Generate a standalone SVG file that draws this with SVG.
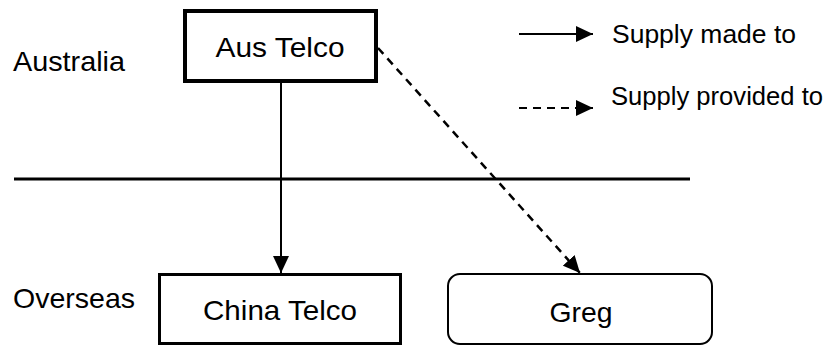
<svg xmlns="http://www.w3.org/2000/svg" width="834" height="347" viewBox="0 0 834 347">
<style>
text{font-family:"Liberation Sans",Arial,sans-serif;font-size:28px;fill:#000}
.c{text-anchor:middle}
.lg{font-size:26px}
.ln{stroke:#000;fill:none}
.dash{stroke-dasharray:8 6}
</style>
<defs>
<marker id="ah" markerUnits="userSpaceOnUse" markerWidth="18" markerHeight="16" refX="17" refY="8" orient="auto">
<path d="M0,0 L17,8 L0,16 Z" fill="#000"/>
</marker>
</defs>
<rect width="834" height="347" fill="#fff"/>
<text x="13" y="71" textLength="112" lengthAdjust="spacingAndGlyphs">Australia</text>
<text x="13" y="308" textLength="122" lengthAdjust="spacingAndGlyphs">Overseas</text>
<line x1="14" y1="179" x2="690" y2="179" stroke="#000" stroke-width="3"/>
<g id="legend">
<line class="ln" x1="519" y1="34" x2="593" y2="34" stroke-width="2" marker-end="url(#ah)"/>
<text class="lg" x="612" y="43" textLength="184" lengthAdjust="spacingAndGlyphs">Supply made to</text>
<line class="ln dash" x1="519" y1="108" x2="593" y2="108" stroke-width="2" marker-end="url(#ah)"/>
<text class="lg" x="611" y="105" textLength="212" lengthAdjust="spacingAndGlyphs">Supply provided to</text>
</g>
<g id="connectors">
<line class="ln" x1="281" y1="83" x2="281" y2="273" stroke-width="2" marker-end="url(#ah)"/>
<line class="ln dash" x1="378" y1="48" x2="580" y2="273" stroke-width="2.5" marker-end="url(#ah)"/>
</g>
<g id="aus-telco">
<rect x="185" y="11" width="191" height="70" fill="#fff" stroke="#000" stroke-width="4"/>
<text class="c" x="280" y="57" textLength="129" lengthAdjust="spacingAndGlyphs">Aus Telco</text>
</g>
<g id="china-telco">
<rect x="159.5" y="274.5" width="241" height="69" fill="#fff" stroke="#000" stroke-width="3"/>
<text class="c" x="280" y="320" textLength="154" lengthAdjust="spacingAndGlyphs">China Telco</text>
</g>
<g id="greg">
<rect x="448" y="274" width="264" height="70" rx="12" fill="#fff" stroke="#000" stroke-width="2"/>
<text class="c" x="581" y="322" textLength="63" lengthAdjust="spacingAndGlyphs">Greg</text>
</g>
</svg>
